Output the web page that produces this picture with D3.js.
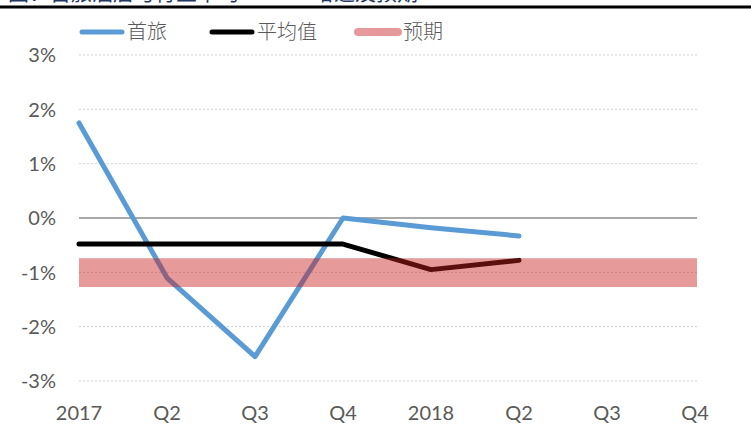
<!DOCTYPE html>
<html>
<head>
<meta charset="utf-8">
<script src="https://cdn.jsdelivr.net/npm/d3@7"></script>
<style>
  body { margin: 0; background: #fff; }
  svg { display: block; }
</style>
</head>
<body>
<div id="chart"></div>
<script>
// quarters on the x axis
const quarters = ['2017', 'Q2', 'Q3', 'Q4', '2018', 'Q2 ', 'Q3 ', 'Q4 '];
const quarterLabels = ['2017', 'Q2', 'Q3', 'Q4', '2018', 'Q2', 'Q3', 'Q4'];
// series, in %
const shoulv = [1.75, -1.1, -2.55, 0.0, -0.18, -0.33];
const average = [-0.48, -0.48, -0.48, -0.48, -0.95, -0.78];
const expectLow = -1.27;
const expectHigh = -0.74;
const yTicks = [3, 2, 1, 0, -1, -2, -3];

const width = 751, height = 425;

const svg = d3.select('#chart').append('svg')
  .attr('width', width)
  .attr('height', height);

// cut-off title and rule at the very top
svg.append('text')
  .attr('x', 8)
  .attr('y', 0)
  .attr('fill', '#1f3864')
  .style('font-family', '"Noto Sans CJK SC", sans-serif')
  .style('font-size', '21px')
  .text('图：首旅酒店与行业平均RevPAR增速及预期');
svg.append('line')
  .attr('x1', 0).attr('x2', width)
  .attr('y1', 7).attr('y2', 7)
  .attr('stroke', '#000')
  .attr('stroke-width', 3);

const x = d3.scalePoint()
  .domain(quarters)
  .range([79, 695]);

const y = d3.scaleLinear()
  .domain([-3, 3])
  .range([381, 55]);

// grid
svg.append('g').selectAll('line')
  .data(yTicks.filter(d => d !== 0))
  .enter().append('line')
  .attr('x1', 79).attr('x2', 697)
  .attr('y1', d => y(d)).attr('y2', d => y(d))
  .attr('stroke', '#d0d0d0')
  .attr('stroke-width', 1)
  .attr('stroke-dasharray', '2,2');

svg.append('line')
  .attr('x1', 79).attr('x2', 697)
  .attr('y1', y(0)).attr('y2', y(0))
  .attr('stroke', '#8c8c8c')
  .attr('stroke-width', 1.5);

// y labels
svg.append('g').selectAll('text')
  .data(yTicks)
  .enter().append('text')
  .attr('x', 56)
  .attr('y', d => y(d))
  .attr('dy', '0.36em')
  .attr('text-anchor', 'end')
  .attr('fill', '#595959')
  .style('font-family', 'Lato, sans-serif')
  .style('font-size', '20px')
  .text(d => d + '%');

// x labels
svg.append('g').selectAll('text')
  .data(quarters)
  .enter().append('text')
  .attr('x', d => x(d))
  .attr('y', 420)
  .attr('text-anchor', 'middle')
  .attr('fill', '#595959')
  .style('font-family', 'Lato, sans-serif')
  .style('font-size', '20px')
  .text((d, i) => quarterLabels[i]);

const line = d3.line()
  .x((d, i) => x(quarters[i]))
  .y(d => y(d));

svg.append('path')
  .datum(shoulv)
  .attr('d', line)
  .attr('fill', 'none')
  .attr('stroke', '#5b9bd5')
  .attr('stroke-width', 5)
  .attr('stroke-linejoin', 'round')
  .attr('stroke-linecap', 'round');

svg.append('path')
  .datum(average)
  .attr('d', line)
  .attr('fill', 'none')
  .attr('stroke', '#000')
  .attr('stroke-width', 5)
  .attr('stroke-linejoin', 'round')
  .attr('stroke-linecap', 'round');

// expectation band drawn over the lines, semi-transparent
svg.append('rect')
  .attr('x', 79)
  .attr('width', 697 - 79)
  .attr('y', y(expectHigh))
  .attr('height', y(expectLow) - y(expectHigh))
  .attr('fill', 'rgb(200,30,30)')
  .attr('fill-opacity', 0.45);

// legend
const legend = [
  { name: '首旅', color: '#5b9bd5', x: 80 },
  { name: '平均值', color: '#000', x: 210 },
  { name: '预期', color: '#e6999a', x: 356 }
];
const lg = svg.append('g').selectAll('g')
  .data(legend)
  .enter().append('g')
  .attr('transform', d => `translate(${d.x}, 32)`);
lg.append('line')
  .attr('x1', 2).attr('x2', 42)
  .attr('stroke', d => d.color)
  .attr('stroke-width', d => d.name === '预期' ? 8 : 5)
  .attr('stroke-linecap', 'round');
lg.append('text')
  .attr('x', 47)
  .attr('dy', '0.36em')
  .attr('fill', '#595959')
  .style('font-family', '"Noto Sans CJK SC", sans-serif')
  .style('font-weight', 300)
  .style('font-size', '20px')
  .text(d => d.name);
</script>
</body>
</html>
